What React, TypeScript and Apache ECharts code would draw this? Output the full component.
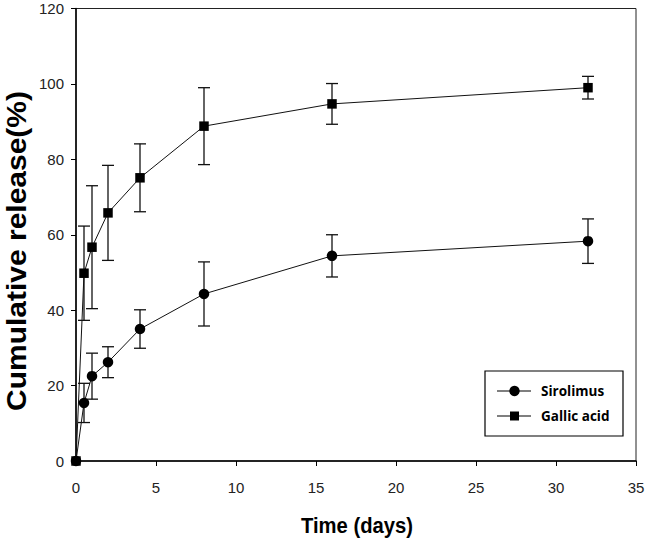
import React, { useEffect, useRef } from "react";
import * as echarts from "echarts";

const days = [0, 0.5, 1, 2, 4, 8, 16, 32];
const sirolimus = [0, 15.4, 22.5, 26.2, 35.0, 44.3, 54.4, 58.3];
const sirolimusSD = [0, 5.2, 6.1, 4.1, 5.1, 8.5, 5.6, 5.9];
const gallicAcid = [0, 49.8, 56.7, 65.8, 75.1, 88.8, 94.7, 99.0];
const gallicAcidSD = [0, 12.5, 16.3, 12.6, 9.0, 10.2, 5.4, 3.0];
const seriesNames = ["Sirolimus", "Gallic acid"];
const xTitle = "Time (days)";
const yTitle = "Cumulative release(%)";

const FONT = "'Liberation Sans', Arial, sans-serif";

function errorData(means: number[], sds: number[]) {
  return days
    .map((d, i) => [d, means[i] - sds[i], means[i] + sds[i]])
    .filter((_, i) => sds[i] > 0);
}

function errorSeries(means: number[], sds: number[]) {
  return {
    type: "custom",
    z: 2,
    silent: true,
    data: errorData(means, sds),
    encode: { x: 0, y: [1, 2] },
    renderItem: (_params: any, api: any) => {
      const x = api.value(0);
      const lo = api.coord([x, api.value(1)]);
      const hi = api.coord([x, api.value(2)]);
      const w = 6;
      const st = { stroke: "#111", lineWidth: 1.3 };
      return {
        type: "group",
        children: [
          { type: "line", shape: { x1: lo[0], y1: lo[1], x2: hi[0], y2: hi[1] }, style: st },
          { type: "line", shape: { x1: hi[0] - w, y1: hi[1], x2: hi[0] + w, y2: hi[1] }, style: st },
          { type: "line", shape: { x1: lo[0] - w, y1: lo[1], x2: lo[0] + w, y2: lo[1] }, style: st },
        ],
      };
    },
  };
}

export default function App() {
  const ref = useRef<HTMLDivElement>(null);
  useEffect(() => {
    if (!ref.current) return;
    const chart = echarts.init(ref.current, null, { renderer: "svg" });
    const legX = 485;
    const legY = 371;
    const legW = 138;
    const legH = 65;
    const row1 = 391;
    const row2 = 416;
    chart.setOption({
      animation: false,
      backgroundColor: "#fff",
      grid: {
        left: 76,
        right: 10,
        top: 8.5,
        bottom: 82,
        show: true,
        borderColor: "#222",
        borderWidth: 1,
        backgroundColor: "transparent",
        outerBoundsMode: "none",
      },
      xAxis: {
        type: "value",
        min: 0,
        max: 35,
        interval: 5,
        splitLine: { show: false },
        axisLine: { show: true, lineStyle: { color: "#000", width: 1.5 } },
        axisTick: { show: true, inside: false, length: 5, lineStyle: { color: "#000", width: 1 } },
        axisLabel: { margin: 19, color: "#222", fontSize: 15, fontFamily: FONT },
      },
      yAxis: {
        type: "value",
        min: 0,
        max: 120,
        interval: 20,
        splitLine: { show: false },
        axisLine: { show: true, lineStyle: { color: "#000", width: 1.5 } },
        axisTick: { show: true, inside: false, length: 5, lineStyle: { color: "#000", width: 1 } },
        axisLabel: { margin: 12, color: "#222", fontSize: 15, fontFamily: FONT },
      },
      series: [
        errorSeries(sirolimus, sirolimusSD),
        errorSeries(gallicAcid, gallicAcidSD),
        {
          name: seriesNames[0],
          type: "line",
          z: 3,
          data: days.map((d, i) => [d, sirolimus[i]]),
          symbol: "circle",
          symbolSize: 10.5,
          showAllSymbol: true,
          lineStyle: { color: "#111", width: 1 },
          itemStyle: { color: "#000", borderWidth: 0 },
        },
        {
          name: seriesNames[1],
          type: "line",
          z: 3,
          data: days.map((d, i) => [d, gallicAcid[i]]),
          symbol: "rect",
          symbolSize: 9.5,
          showAllSymbol: true,
          lineStyle: { color: "#111", width: 1 },
          itemStyle: { color: "#000", borderWidth: 0 },
        },
      ],
      graphic: [
        {
          type: "text",
          x: 17,
          y: 251,
          rotation: Math.PI / 2,
          scaleY: 0.9,
          style: {
            text: yTitle,
            font: `bold 30px ${FONT}`,
            fill: "#000",
            align: "center",
            verticalAlign: "middle",
          },
        },
        {
          type: "text",
          x: 357,
          y: 525,
          scaleX: 0.92,
          style: {
            text: xTitle,
            font: `bold 22px ${FONT}`,
            fill: "#000",
            align: "center",
            verticalAlign: "middle",
          },
        },
        {
          type: "rect",
          shape: { x: legX, y: legY, width: legW, height: legH },
          style: { fill: "#fff", stroke: "#000", lineWidth: 1.2 },
          z: 10,
        },
        {
          type: "line",
          shape: { x1: 497, y1: row1, x2: 531, y2: row1 },
          style: { stroke: "#000", lineWidth: 1.2 },
          z: 11,
        },
        {
          type: "circle",
          shape: { cx: 514.5, cy: row1, r: 5.2 },
          style: { fill: "#000" },
          z: 11,
        },
        {
          type: "line",
          shape: { x1: 497, y1: row2, x2: 531, y2: row2 },
          style: { stroke: "#000", lineWidth: 1.2 },
          z: 11,
        },
        {
          type: "rect",
          shape: { x: 510, y: row2 - 4.5, width: 9, height: 9 },
          style: { fill: "#000" },
          z: 11,
        },
        {
          type: "text",
          x: 541,
          y: row1,
          z: 11,
          style: {
            text: seriesNames[0],
            font: `bold 13.5px 'Open Sans', sans-serif`,
            fill: "#000",
            verticalAlign: "middle",
          },
        },
        {
          type: "text",
          x: 541,
          y: row2,
          z: 11,
          style: {
            text: seriesNames[1],
            font: `bold 13.5px 'Open Sans', sans-serif`,
            fill: "#000",
            verticalAlign: "middle",
          },
        },
      ],
    });
    return () => chart.dispose();
  }, []);
  return (
    <div
      ref={ref}
      style={{ position: "fixed", left: 0, top: 0, width: 646, height: 543 }}
    />
  );
}
